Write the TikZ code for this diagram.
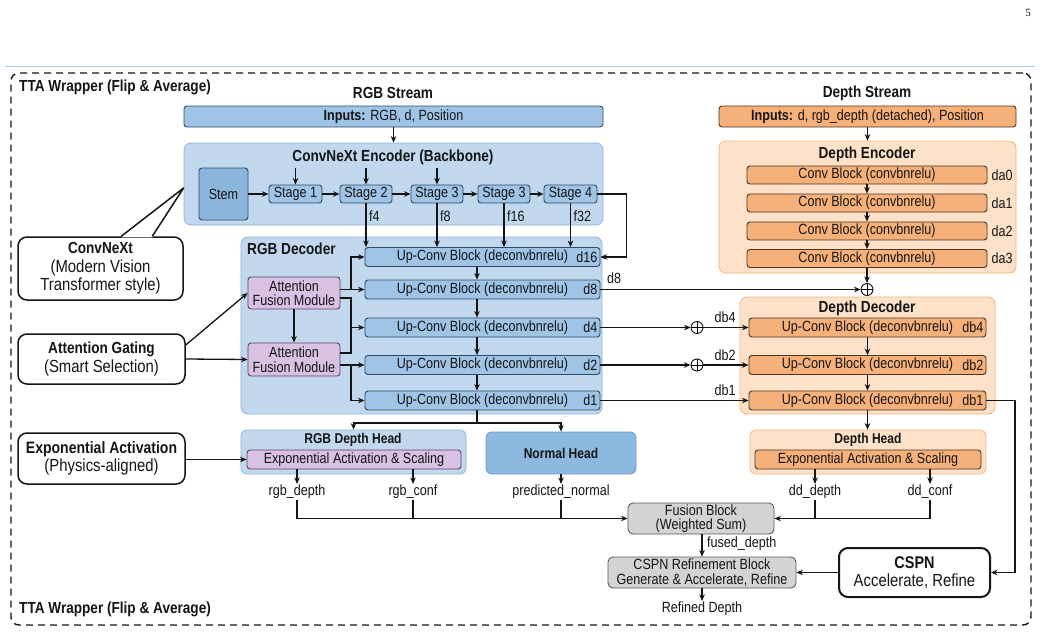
\documentclass[tikz,border=0pt]{standalone}
\usepackage{fontspec}
\setmainfont{Liberation Sans}[FakeStretch=0.85]
\newfontfamily\pagefont{Liberation Serif}
\usetikzlibrary{arrows.meta,calc}

\definecolor{cBlueBg}{HTML}{C1D8EE}
\definecolor{cBlueBgD}{HTML}{8DB4DA}
\definecolor{cBlueBlk}{HTML}{9FC4E6}
\definecolor{cBlueDk}{HTML}{2F4B66}
\definecolor{cStem}{HTML}{8CB5DC}
\definecolor{cNormal}{HTML}{8DB8E0}
\definecolor{cNormalD}{HTML}{6A9BCB}
\definecolor{cPurple}{HTML}{D9C1E3}
\definecolor{cPurpleD}{HTML}{5B4068}
\definecolor{cOrBg}{HTML}{FDE2C9}
\definecolor{cOrBgD}{HTML}{F3B27A}
\definecolor{cOrBlk}{HTML}{F6B07A}
\definecolor{cOrDk}{HTML}{4C3422}
\definecolor{cGray}{HTML}{D4D4D4}
\definecolor{cGrayD}{HTML}{5A5A5A}
\definecolor{cInk}{HTML}{151515}
\definecolor{cRule}{HTML}{A9C9EA}

\begin{document}
\begin{tikzpicture}[x=1pt,y=-1pt,
  every node/.style={text=cInk, font=\fontsize{14.8}{15.5}\selectfont},
  bx/.style={draw, inner sep=0pt, rounded corners=3pt, line width=0.9pt, align=center},
  bluebg/.style={bx, fill=cBlueBg, draw=cBlueBgD, rounded corners=7pt, line width=0.8pt},
  blueblk/.style={bx, fill=cBlueBlk, draw=cBlueDk},
  stembox/.style={bx, fill=cStem, draw=cBlueDk},
  normbox/.style={bx, fill=cNormal, draw=cNormalD, rounded corners=6pt, font=\bfseries\fontsize{14.2}{16}\selectfont},
  purpbox/.style={bx, fill=cPurple, draw=cPurpleD},
  orbg/.style={bx, fill=cOrBg, draw=cOrBgD, rounded corners=7pt, line width=0.8pt},
  orblk/.style={bx, fill=cOrBlk, draw=cOrDk},
  graybox/.style={bx, fill=cGray, draw=cGrayD, rounded corners=5pt},
  callout/.style={draw=cInk, fill=white, line width=1.5pt, rounded corners=9pt, align=center, inner sep=0pt, font=\fontsize{17.5}{18.5}\selectfont},
  ttl/.style={font=\bfseries\fontsize{16}{18}\selectfont, inner sep=0pt},
  httl/.style={font=\bfseries\fontsize{14.2}{16}\selectfont, inner sep=0pt},
  lab/.style={inner sep=1pt},
  arr/.style={-{Stealth[length=6.5pt,width=5.5pt]}, line width=1.3pt, draw=cInk},
  ln/.style={line width=1.3pt, draw=cInk},
  plus/.style={circle, draw=cInk, fill=white, line width=0.9pt, minimum size=12pt, inner sep=0pt}
]
\useasboundingbox (0,0) rectangle (1042,635);

% page decorations
\node[font=\pagefont\fontsize{11}{12}\selectfont, inner sep=0pt] (pagenum) at (1028,13) {5};
\coordinate (ruleL) at (5,66);
\coordinate (ruleR) at (1035,66);
\draw[cRule, line width=1pt] (ruleL) -- (ruleR);

% TTA frame
\node[draw=cInk, dash pattern=on 7pt off 5pt, line width=1.4pt, rounded corners=8pt,
      minimum width=1020pt, minimum height=552pt, inner sep=0pt] (frame) at (521,349) {};
\node[ttl, anchor=west] (ttaTop) at (19,87) {TTA Wrapper (Flip \& Average)};
\node[ttl, anchor=west] (ttaBot) at (19,609) {TTA Wrapper (Flip \& Average)};

% ---------------- RGB stream ----------------
\node[ttl] (rgbTitle) at (393,93) {RGB Stream};
\node[blueblk, minimum width=419pt, minimum height=21pt] (rgbin) at (393.5,116.5) {\textbf{Inputs:} RGB, d, Position};
\node[bluebg, minimum width=419pt, minimum height=82pt] (enc) at (393.5,184) {};
\node[ttl] (encTitle) at (393,157) {ConvNeXt Encoder (Backbone)};
\draw[arr] (rgbin.south) -- (enc.north);

\node[stembox, minimum width=49pt, minimum height=52pt] (stem) at (223.5,194) {Stem};
\node[blueblk, minimum width=53pt, minimum height=18pt] (s1) at (295.5,194) {Stage 1};
\node[blueblk, minimum width=52pt, minimum height=18pt] (s2) at (366,194) {Stage 2};
\node[blueblk, minimum width=52pt, minimum height=18pt] (s3) at (437,194) {Stage 3};
\node[blueblk, minimum width=52pt, minimum height=18pt] (s3b) at (504,194) {Stage 3};
\node[blueblk, minimum width=53pt, minimum height=18pt] (s4) at (570.5,194) {Stage 4};
\draw[arr] (stem.east) -- (s1.west);
\draw[arr] (s1.east) -- (s2.west);
\draw[arr] (s2.east) -- (s3.west);
\draw[arr] (s3.east) -- (s3b.west);
\draw[arr] (s3b.east) -- (s4.west);
\coordinate (t1) at ($(s1.north)+(0,-17)$);
\coordinate (t2) at ($(s2.north)+(0,-17)$);
\coordinate (t3) at ($(s3.north)+(0,-17)$);
\draw[arr] (t1) -- (s1.north);
\draw[arr] (t2) -- (s2.north);
\draw[arr] (t3) -- (s3.north);

% RGB decoder
\node[bluebg, minimum width=361pt, minimum height=177pt] (dec) at (421.5,325.5) {};
\node[ttl, anchor=west] (decTitle) at (247,249) {RGB Decoder};
\node[blueblk, minimum width=235pt, minimum height=19pt] (d16) at (482.5,257) {Up-Conv Block (deconvbnrelu)};
\node[blueblk, minimum width=235pt, minimum height=19pt] (d8) at (482.5,289.5) {Up-Conv Block (deconvbnrelu)};
\node[blueblk, minimum width=235pt, minimum height=19pt] (d4) at (482.5,327.5) {Up-Conv Block (deconvbnrelu)};
\node[blueblk, minimum width=235pt, minimum height=19pt] (d2) at (482.5,365) {Up-Conv Block (deconvbnrelu)};
\node[blueblk, minimum width=235pt, minimum height=19pt] (d1) at (482.5,400.5) {Up-Conv Block (deconvbnrelu)};
\node[anchor=east, inner sep=0pt] (l16) at ($(d16.east)+(-3,0)$) {d16};
\node[anchor=east, inner sep=0pt] (l8) at ($(d8.east)+(-3,0)$) {d8};
\node[anchor=east, inner sep=0pt] (l4) at ($(d4.east)+(-3,0)$) {d4};
\node[anchor=east, inner sep=0pt] (l2) at ($(d2.east)+(-3,0)$) {d2};
\node[anchor=east, inner sep=0pt] (l1) at ($(d1.east)+(-3,0)$) {d1};
\draw[arr] ($(d16.south)+(-5.5,0)$) -- ($(d8.north)+(-5.5,0)$);
\draw[arr] ($(d8.south)+(-5.5,0)$) -- ($(d4.north)+(-5.5,0)$);
\draw[arr] ($(d4.south)+(-5.5,0)$) -- ($(d2.north)+(-5.5,0)$);
\draw[arr] ($(d2.south)+(-5.5,0)$) -- ($(d1.north)+(-5.5,0)$);

% encoder skip connections
\draw[arr] (s2.south) -- (s2.south |- d16.north);
\draw[arr] (s3.south) -- (s3.south |- d16.north);
\draw[arr] (s3b.south) -- (s3b.south |- d16.north);
\draw[arr] (s4.south) -- (s4.south |- d16.north);
\node[anchor=west, inner sep=0pt] (lf4) at ($(s2.south)+(3,13)$) {f4};
\node[anchor=west, inner sep=0pt] (lf8) at ($(s3.south)+(3,13)$) {f8};
\node[anchor=west, inner sep=0pt] (lf16) at ($(s3b.south)+(3,13)$) {f16};
\node[anchor=west, inner sep=0pt] (lf32) at ($(s4.south)+(3,13)$) {f32};
\draw[arr] (s4.east) -- ++(29,0) |- (d16.east);

% attention fusion modules
\node[purpbox, minimum width=92pt, minimum height=32pt] (afm1) at (294,293) {Attention\\[-1pt]Fusion Module};
\node[purpbox, minimum width=92pt, minimum height=33pt] (afm2) at (294,359.5) {Attention\\[-1pt]Fusion Module};
\draw[arr] (afm1.south) -- (afm2.north);
\coordinate (jA) at (351,289.5);
\coordinate (jB) at (351,298);
\coordinate (jC) at (351,353);
\coordinate (jD) at (351,365);
\draw[arr] (afm1.east |- d8.west) -- (d8.west);
\draw[arr] (jA) |- (d16.west);
\draw[ln] ($(afm1.east)+(0,5)$) -- (jB) -- (jC) -- (afm2.east |- jC);
\draw[arr] (jB |- d4.west) -- (d4.west);
\draw[arr] (afm2.east |- d2.west) -- (d2.west);
\draw[arr] (jD) |- (d1.west);

% ---------------- Heads ----------------
\node[bluebg, minimum width=225pt, minimum height=44pt, rounded corners=6pt] (rgbhead) at (353.5,452) {};
\node[httl] (rgbheadTitle) at (353,440) {RGB Depth Head};
\node[purpbox, minimum width=214pt, minimum height=19pt] (expin) at (354,459.5) {Exponential Activation \& Scaling};
\node[normbox, minimum width=150pt, minimum height=42pt] (normal) at (561,453) {Normal Head};
\coordinate (split) at (477,423);
\draw[ln] ($(d1.south)+(-5.5,0)$) -- (split);
\draw[arr] (split) -| (rgbhead.north);
\draw[arr] (split) -| (normal.north);

\node[lab, anchor=north] (rgbdepth) at (297,484) {rgb\_depth};
\node[lab, anchor=north] (rgbconf) at (413,484) {rgb\_conf};
\node[lab, anchor=north] (pnormal) at (561,484) {predicted\_normal};
\draw[arr] (expin.south -| rgbdepth) -- (rgbdepth.north);
\draw[arr] (expin.south -| rgbconf) -- (rgbconf.north);
\draw[arr] (normal.south) -- (pnormal.north);

% ---------------- Depth stream ----------------
\node[ttl] (depTitle) at (867,93) {Depth Stream};
\node[orblk, minimum width=297pt, minimum height=21pt] (dinput) at (867.5,116.5) {\textbf{Inputs:} d, rgb\_depth (detached), Position};
\node[orbg, minimum width=297pt, minimum height=132pt] (denc) at (867.5,207) {};
\node[ttl] (dencTitle) at (867,154) {Depth Encoder};
\draw[arr] (dinput.south) -- (denc.north);
\node[orblk, minimum width=240pt, minimum height=18pt] (da0) at (867,175) {Conv Block (convbnrelu)};
\node[orblk, minimum width=240pt, minimum height=18pt] (da1) at (867,203) {Conv Block (convbnrelu)};
\node[orblk, minimum width=240pt, minimum height=18pt] (da2) at (867,231) {Conv Block (convbnrelu)};
\node[orblk, minimum width=240pt, minimum height=18pt] (da3) at (867,258.5) {Conv Block (convbnrelu)};
\node[inner sep=0pt] (lda0) at (1002,175) {da0};
\node[inner sep=0pt] (lda1) at (1002,203) {da1};
\node[inner sep=0pt] (lda2) at (1002,231) {da2};
\node[inner sep=0pt] (lda3) at (1002,258.5) {da3};
\draw[arr] (da0.south) -- (da1.north);
\draw[arr] (da1.south) -- (da2.north);
\draw[arr] (da2.south) -- (da3.north);

\node[plus] (p1) at (867,289.5) {};
\draw[line width=0.9pt] (p1.north) -- (p1.south) (p1.west) -- (p1.east);
\draw[arr] (da3.south) -- (p1.north);
\draw[arr] (d8.east) -- (p1.west);
\node[inner sep=0pt] (ld8) at (614,278) {d8};

% depth decoder
\node[orbg, minimum width=255pt, minimum height=117pt] (ddec) at (867.5,355.5) {};
\node[ttl] (ddecTitle) at (867,308) {Depth Decoder};
\node[orblk, minimum width=237pt, minimum height=19pt] (db4) at (867.5,327.5) {Up-Conv Block (deconvbnrelu)};
\node[orblk, minimum width=237pt, minimum height=19pt] (db2) at (867.5,365) {Up-Conv Block (deconvbnrelu)};
\node[orblk, minimum width=237pt, minimum height=19pt] (db1) at (867.5,400.5) {Up-Conv Block (deconvbnrelu)};
\node[anchor=east, inner sep=0pt] (ldb4) at ($(db4.east)+(-3,0)$) {db4};
\node[anchor=east, inner sep=0pt] (ldb2) at ($(db2.east)+(-3,0)$) {db2};
\node[anchor=east, inner sep=0pt] (ldb1) at ($(db1.east)+(-3,0)$) {db1};
\draw[arr] (db4.south) -- (db2.north);
\draw[arr] (db2.south) -- (db1.north);

\node[plus] (p2) at (697,327.5) {};
\draw[line width=0.9pt] (p2.north) -- (p2.south) (p2.west) -- (p2.east);
\node[plus] (p3) at (697,365) {};
\draw[line width=0.9pt] (p3.north) -- (p3.south) (p3.west) -- (p3.east);
\draw[arr] (d4.east) -- (p2.west);
\draw[arr] (p2.east) -- (db4.west);
\draw[arr] (d2.east) -- (p3.west);
\draw[arr] (p3.east) -- (db2.west);
\draw[arr] (d1.east) -- (db1.west);
\node[inner sep=0pt] (ldb4b) at (725,317) {db4};
\node[inner sep=0pt] (ldb2b) at (725,355) {db2};
\node[inner sep=0pt] (ldb1b) at (725,390) {db1};

% depth head
\node[orbg, minimum width=236pt, minimum height=44pt, rounded corners=6pt] (dhead) at (868,452) {};
\node[httl] (dheadTitle) at (868,440) {Depth Head};
\node[orblk, minimum width=226pt, minimum height=19pt] (dexp) at (868,459.5) {Exponential Activation \& Scaling};
\draw[arr] (db1.south) -- (db1.south |- dhead.north);
\node[lab, anchor=north] (dddepth) at (815,484) {dd\_depth};
\node[lab, anchor=north] (ddconf) at (930,484) {dd\_conf};
\draw[arr] (dexp.south -| dddepth) -- (dddepth.north);
\draw[arr] (dexp.south -| ddconf) -- (ddconf.north);

% ---------------- Fusion & CSPN ----------------
\node[graybox, minimum width=146pt, minimum height=31pt] (fusion) at (701,518.5) {Fusion Block\\[-1pt](Weighted Sum)};
\node[graybox, minimum width=188pt, minimum height=31pt] (cspnref) at (702,572.5) {CSPN Refinement Block\\[-1pt]Generate \& Accelerate, Refine};
\draw[arr] (rgbdepth.south) |- (fusion.west);
\draw[ln] (rgbconf.south) -- (rgbconf.south |- fusion.west);
\draw[ln] (pnormal.south) -- (pnormal.south |- fusion.west);
\draw[arr] (ddconf.south) |- (fusion.east);
\draw[ln] (dddepth.south) -- (dddepth.south |- fusion.east);
\draw[arr] (fusion.south -| cspnref.north) -- (cspnref.north);
\node[inner sep=0pt, anchor=west] (lfused) at (707,544) {fused\_depth};
\node[lab, anchor=north] (refined) at (702,601) {Refined Depth};
\draw[arr] (cspnref.south) -- (refined.north);

\node[callout, line width=2pt, minimum width=151pt, minimum height=49pt] (cspn) at (914.5,572.5) {{\bfseries\fontsize{17}{19}\selectfont CSPN}\\Accelerate, Refine};
\draw[arr] (cspn.west) -- (cspnref.east);
\coordinate (rc) at (1015,400.5);
\draw[arr] (db1.east) -- (rc) |- (cspn.east);

% ---------------- Left callouts ----------------
\node[callout, minimum width=165pt, minimum height=63pt] (cnx) at (100.5,268.5) {{\bfseries\fontsize{16}{18.5}\selectfont ConvNeXt}\\(Modern Vision\\Transformer style)};
\coordinate (cpA) at ($(cnx.north west)+(104,0)$);
\coordinate (cpB) at ($(cnx.north west)+(135,0)$);
\coordinate (tip) at ($(enc.west)+(0,4)$);
\fill[white] ($(cpA)+(0,1.2)$) -- ($(cpB)+(0,1.2)$) -- (tip) -- cycle;
\draw[line width=1.5pt, draw=cInk, line join=round] (cpA) -- (tip) -- (cpB);

\node[callout, minimum width=167pt, minimum height=50pt] (gate) at (101.5,359) {{\bfseries\fontsize{16}{18}\selectfont Attention Gating}\\(Smart Selection)};
\draw[arr] ($(gate.east)+(0,-14)$) -- (afm1.west);
\draw[arr] (gate.east) -- (afm2.west);

\node[callout, minimum width=167pt, minimum height=51pt] (expact) at (101.5,458.5) {{\bfseries\fontsize{16.5}{18}\selectfont Exponential Activation}\\(Physics-aligned)};
\draw[arr] (expact.east |- expin.west) -- (expin.west);

\end{tikzpicture}
\end{document}
